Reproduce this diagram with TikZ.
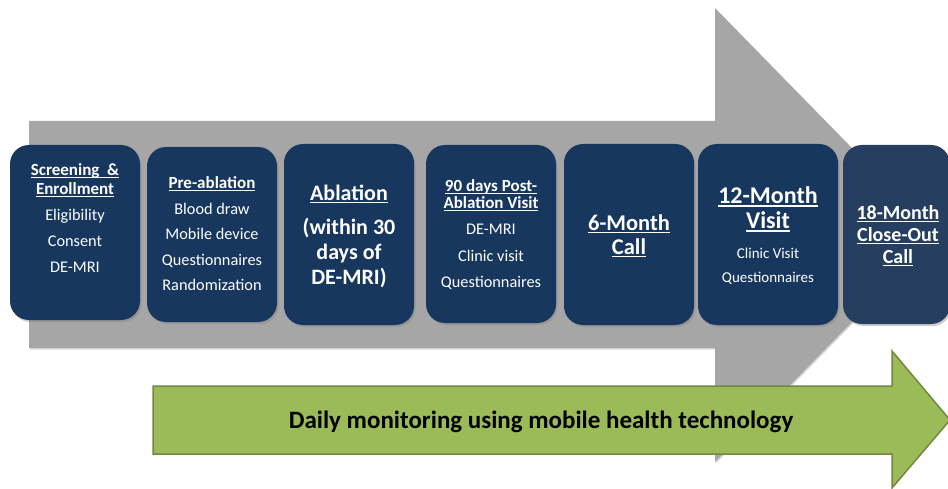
\documentclass[tikz,border=0pt]{standalone}
\usepackage{fontspec}
\setmainfont{Carlito}
\usetikzlibrary{shadows}

\definecolor{navy}{HTML}{17375E}
\definecolor{navysoft}{HTML}{263F61}
\definecolor{arrowgray}{HTML}{A6A6A6}
\definecolor{leaf}{HTML}{9BBB59}
\definecolor{leafedge}{HTML}{71893F}

% underline at a fixed distance below the baseline, scaled with the font
\newsavebox\ulinebox
\newcommand\ulined[1]{\sbox\ulinebox{#1}\rlap{\usebox\ulinebox}\rule[-0.14em]{\wd\ulinebox}{0.075em}}

\begin{document}
\begin{tikzpicture}[x=1pt,y=-1pt,
  stage/.style={fill=navy, rounded corners=19pt, inner sep=0pt, minimum width=130pt,
    drop shadow={shadow xshift=1.5pt, shadow yshift=-2pt, opacity=0.4}},
  txt/.style={text=white, inner sep=0pt, text depth=0pt},
  head/.style={txt, font=\fontsize{17}{20}\selectfont\bfseries, text height=10.9pt},
  body/.style={txt, font=\fontsize{16.3}{19}\selectfont, text height=10.5pt},
  small/.style={txt, font=\fontsize{15}{18}\selectfont, text height=9.7pt},
  big/.style={txt, font=\fontsize{22}{26}\selectfont\bfseries, text height=14.2pt},
  six/.style={txt, font=\fontsize{22.5}{26}\selectfont\bfseries, text height=14.5pt},
  twelve/.style={txt, font=\fontsize{24}{28}\selectfont\bfseries, text height=15.5pt},
  eighteen/.style={txt, font=\fontsize{20}{24}\selectfont\bfseries, text height=12.9pt},
  banner/.style={inner sep=0pt, text=black, font=\fontsize{25}{30}\selectfont\bfseries,
    text height=16.1pt, text depth=0pt}
]
\useasboundingbox (0,0) rectangle (948,489);

% timeline arrow behind the stages
\fill[arrowgray, drop shadow={shadow xshift=1pt, shadow yshift=-1.5pt, opacity=0.3}]
  (29,121) -- (715,121) -- (715,8) -- (937,235) -- (715,462) -- (715,348) -- (29,348) -- cycle;

% monitoring arrow
\draw[leafedge, line width=1.5pt, fill=leaf, line join=miter]
  (153,386) -- (892,386) -- (892,351) -- (950,420) -- (892,488) -- (892,454) -- (153,454) -- cycle;
\node[banner] (mon) at (541,420) {Daily monitoring using mobile health technology};

% stage boxes
\node[stage, minimum height=175pt] (s1) at (75,232.5) {};
\node[stage, minimum height=175pt] (s2) at (212,234.5) {};
\node[stage, minimum height=181pt] (s3) at (349,234.5) {};
\node[stage, minimum height=178pt] (s4) at (491,234) {};
\node[stage, minimum height=181pt] (s5) at (629,234.5) {};
\node[stage, minimum height=181pt, minimum width=140pt] (s6) at (768,234.5) {};
\node[stage, fill=navysoft, minimum height=179pt, minimum width=107pt] (s7) at (896.5,234.5) {};

% Screening & Enrollment
\node[head] (s1a) at (75,170.5) {\ulined{Screening~ \&}};
\node[head] (s1b) at (75,189) {\ulined{Enrollment}};
\node[body] (s1c) at (75,215) {Eligibility};
\node[body] (s1d) at (75,241) {Consent};
\node[body] (s1e) at (75,267) {DE-MRI};

% Pre-ablation
\node[head] (s2a) at (212,183) {\ulined{Pre-ablation}};
\node[body] (s2b) at (212,209) {Blood draw};
\node[body] (s2c) at (212,234) {Mobile device};
\node[body] (s2d) at (212,260) {Questionnaires};
\node[body] (s2e) at (212,285) {Randomization};

% Ablation
\node[big] (s3a) at (349,193) {\ulined{Ablation}};
\node[big] (s3b) at (349,227) {(within 30};
\node[big] (s3c) at (349,252) {days of};
\node[big] (s3d) at (349,277) {DE-MRI)};

% 90 days post-ablation visit
\node[head] (s4a) at (491,186) {\ulined{90 days Post-}};
\node[head] (s4b) at (491,203.5) {\ulined{Ablation Visit}};
\node[body] (s4c) at (491,229) {DE-MRI};
\node[body] (s4d) at (491,256) {Clinic visit};
\node[body] (s4e) at (491,282) {Questionnaires};

% 6-month call
\node[six] (s5a) at (629,223) {\ulined{6-Month}};
\node[six] (s5b) at (629,247) {\ulined{Call}};

% 12-month visit
\node[twelve] (s6a) at (768,196) {\ulined{12-Month}};
\node[twelve] (s6b) at (768,221) {\ulined{Visit}};
\node[small] (s6c) at (768,254) {Clinic Visit};
\node[small] (s6d) at (768,277.5) {Questionnaires};

% 18-month close-out call
\node[eighteen] (s7a) at (898,213) {\ulined{18-Month}};
\node[eighteen] (s7b) at (898,235) {\ulined{Close-Out}};
\node[eighteen] (s7c) at (898,257) {\ulined{Call}};
\end{tikzpicture}
\end{document}
